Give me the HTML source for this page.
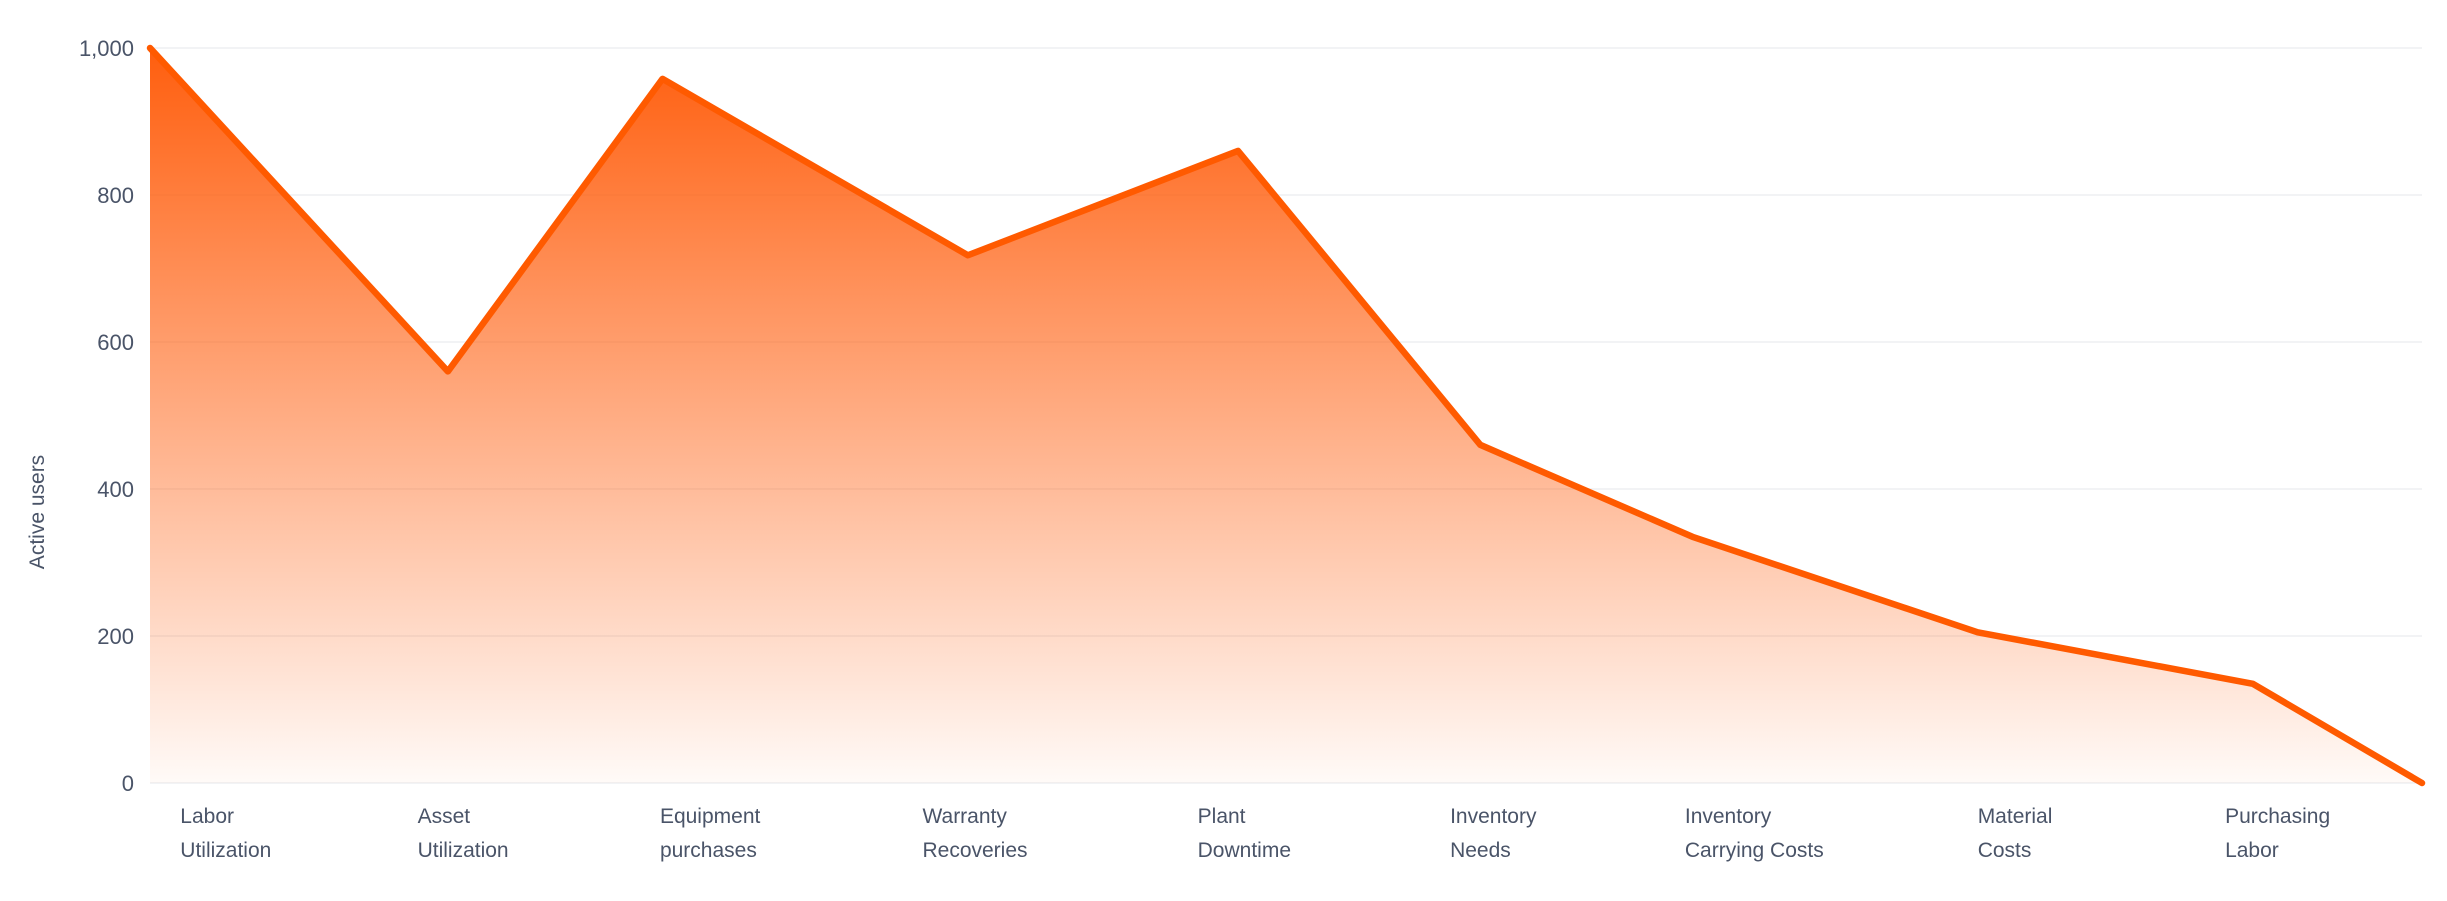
<!DOCTYPE html>
<html><head><meta charset="utf-8"><style>
html,body{margin:0;padding:0;background:#fff;}
svg{display:block;font-family:"Liberation Sans",sans-serif;}
</style></head><body>
<svg id="chart" width="2447" height="901" viewBox="0 0 2447 901">
<defs><linearGradient id="fillGrad" x1="0" y1="0" x2="0" y2="1">
<stop offset="0" stop-color="#ff5e0e" stop-opacity="1"/>
<stop offset="1" stop-color="#ff5e0e" stop-opacity="0.03"/>
</linearGradient></defs>
<g id="grid"></g><g id="area"></g><g id="ylabels"></g><g id="xlabels"></g>
<text transform="translate(44,512) rotate(-90)" text-anchor="middle" font-size="21" fill="#4a5468">Active users</text>
</svg>
<script>
const categories = [["Labor","Utilization"],["Asset","Utilization"],["Equipment","purchases"],["Warranty","Recoveries"],["Plant","Downtime"],["Inventory","Needs"],["Inventory","Carrying Costs"],["Material","Costs"],["Purchasing","Labor"]];
const xValues = [0, 1.18, 2.03, 3.24, 4.31, 5.27, 6.11, 7.24, 8.33, 9];
const yValues = [1000, 560, 958, 718, 860, 460, 335, 205, 135, 0];
const labelX = [0.12, 1.06, 2.02, 3.06, 4.15, 5.15, 6.08, 7.24, 8.22];
const yTicks = [0, 200, 400, 600, 800, 1000];
const yTickLabels = ["0","200","400","600","800","1,000"];

const NS = "http://www.w3.org/2000/svg";
const X0 = 150, X1 = 2422, Y0 = 783, Y1 = 48;
const xs = v => X0 + (v / 9) * (X1 - X0);
const ys = v => Y0 - (v / 1000) * (Y0 - Y1);
function mk(tag, attrs, parent){const e=document.createElementNS(NS,tag);for(const k in attrs)e.setAttribute(k,attrs[k]);parent.appendChild(e);return e;}

const grid = document.getElementById('grid');
const yl = document.getElementById('ylabels');
yTicks.forEach((t,i)=>{
  const l = mk('line',{x1:X0,x2:X1,y1:ys(t),y2:ys(t),stroke:'#eeeff2','stroke-width':1.5},grid);
  
  
  const tx = mk('text',{x:134,y:ys(t)+8,'text-anchor':'end','font-size':22,fill:'#4a5468'},yl);
  tx.textContent = yTickLabels[i];
  
  
});

const area = document.getElementById('area');
const pts = xValues.map((x,i)=>xs(x)+','+ys(yValues[i]));
const poly = mk('polygon',{points: xs(xValues[0])+','+Y0+' '+pts.join(' ')+' '+xs(xValues[xValues.length-1])+','+Y0, fill:'url(#fillGrad)'},area);


const line = mk('polyline',{points:pts.join(' '),fill:'none',stroke:'#ff5a00','stroke-width':6.5,'stroke-linejoin':'round','stroke-linecap':'round'},area);



const xl = document.getElementById('xlabels');
categories.forEach((c,i)=>{
  const t = mk('text',{x:xs(labelX[i]),y:823,'font-size':21,fill:'#4a5468'},xl);
  
  
  const a = mk('tspan',{x:xs(labelX[i]),dy:0},t); a.textContent=c[0];
  const b = mk('tspan',{x:xs(labelX[i]),dy:34},t); b.textContent=c[1];
});
</script>
</body></html>
